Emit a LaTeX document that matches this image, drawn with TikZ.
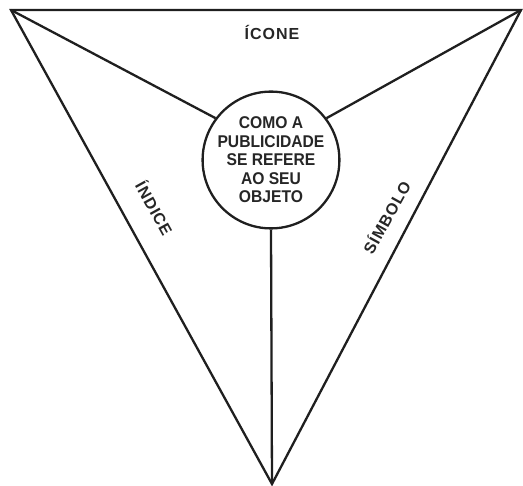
\documentclass[tikz,border=0pt]{standalone}
\usepackage{fontspec}
\setmainfont{Liberation Sans}
\newfontfamily\hubfont[FakeStretch=0.92]{Liberation Sans}
\newfontfamily\lblfont[LetterSpace=6]{Liberation Sans}
\begin{document}
\begin{tikzpicture}[x=1pt,y=-1pt,
  edge/.style={line width=2.3pt,line join=miter,color=black!88},
  lbl/.style={font=\lblfont\bfseries\fontsize{16}{18}\selectfont,color=black!85,inner sep=0pt},
  hub/.style={circle,draw=black!88,line width=2.3pt,minimum size=136pt,inner sep=0pt,align=center,
    font=\hubfont\bfseries\fontsize{17}{18.5}\selectfont,text=black!85}]
\useasboundingbox (0,0) rectangle (523,486);
\coordinate (tl) at (11,10);
\coordinate (tr) at (521,10);
\coordinate (bt) at (272,484);
\draw[edge] (tl) -- (tr) -- (bt) -- cycle;
\node[hub] (c) at (271,160) {COMO A\\PUBLICIDADE\\SE REFERE\\AO SEU\\OBJETO};
\draw[edge] (tl) -- (c.143);
\draw[edge] (tr) -- (c.37);
\draw[edge] (c.south) -- (bt);
\node[lbl] (icone) at (272,32) {ÍCONE};
\node[lbl,rotate=-61] (indice) at (155,208) {ÍNDICE};
\node[lbl,rotate=61] (simbolo) at (386,217) {SÍMBOLO};
\end{tikzpicture}
\end{document}
